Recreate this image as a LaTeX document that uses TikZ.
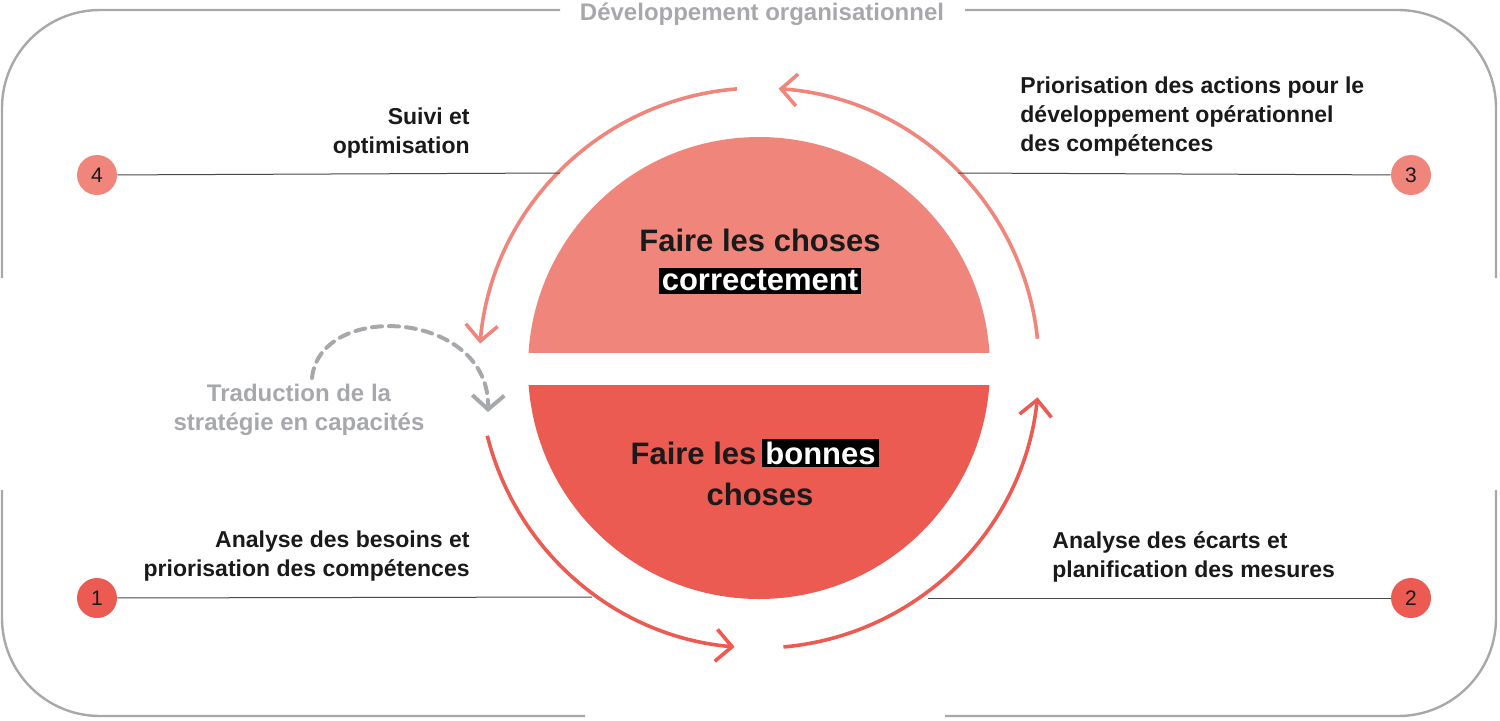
\documentclass[tikz,border=0pt]{standalone}
\usepackage{fontspec}
\setmainfont{Liberation Sans}
\usetikzlibrary{arrows.meta,calc}
\definecolor{lred}{HTML}{F0857C}
\definecolor{dred}{HTML}{EC5B51}
\definecolor{frame}{HTML}{A7A8AC}
\definecolor{txt}{HTML}{1A1A1A}
\tikzset{
 lab/.style={font=\bfseries\fontsize{11.5}{14.5}\selectfont, text=txt, inner sep=0pt},
 big/.style={font=\bfseries\fontsize{15.5}{20.5}\selectfont, text=txt, inner sep=0pt},
 hl/.style={fill=black, text=white, inner sep=1.5pt},
 num/.style={circle, minimum size=20pt, inner sep=0pt, font=\fontsize{10.5}{10}\selectfont, text=txt},
 conn/.style={draw=txt!80, line width=0.5pt},
 ring/.style={line width=1.8pt, -{Straight Barb[length=8pt,width=16pt,line width=1.8pt]}},
}
\begin{document}
\begin{tikzpicture}[x=0.5pt,y=-0.5pt]
\useasboundingbox (0,0) rectangle (1500,720);
% frame
\begin{scope}[draw=frame, line width=1.2pt]
\draw (560,10) -- (100,10) arc[start angle=90,end angle=180,radius=49pt] -- (2,278);
\draw (965,10) -- (1398,10) arc[start angle=90,end angle=0,radius=49pt] -- (1496,278);
\draw (2,490) -- (2,618) arc[start angle=180,end angle=270,radius=49pt] -- (585,716);
\draw (1496,490) -- (1496,618) arc[start angle=0,end angle=-90,radius=49pt] -- (945,716);
\end{scope}
\node[font=\bfseries\fontsize{12}{12}\selectfont, text=frame] (title) at (762,14) {Développement organisationnel};
% central disc
\coordinate (c) at (759,368);
\begin{scope}
\clip (0,0) rectangle (1500,352);
\fill[lred] (c) circle[radius=115.5pt];
\end{scope}
\begin{scope}
\clip (0,385) rectangle (1500,720);
\fill[dred] (c) circle[radius=115.5pt];
\end{scope}
\node[big] (t1) at (760,240) {Faire les choses};
\node[big, hl] (t2) at (760,281) {correctement};
\node[big, anchor=east] (t3) at (762,453) {Faire les\,};
\node[big, hl, anchor=west] (t4) at (762,453) {bonnes};
\node[big] (t5) at (760,494) {choses};
% ring arrows
\draw[ring, lred] ($(c)+(94.5:140pt)$) arc[start angle=94.5,end angle=175,radius=140pt];
\draw[ring, lred] ($(c)+(6:140pt)$) arc[start angle=6,end angle=86,radius=140pt];
\draw[ring, dred] ($(c)+(194:140pt)$) arc[start angle=194,end angle=265,radius=140pt];
\draw[ring, dred] ($(c)+(275:140pt)$) arc[start angle=275,end angle=354,radius=140pt];
% dashed arrow
\coordinate (d0) at (312,378);
\coordinate (d1) at (488,412);
\draw[frame, line width=2pt, dash pattern=on 5pt off 3.5pt, line cap=round, -{Straight Barb[length=7pt,width=16pt,line width=2pt]}] (d0) .. controls (320,300) and (490,310) .. (d1);
\node[font=\bfseries\fontsize{12}{14.5}\selectfont, text=frame, align=center] (trad) at (299,410) {Traduction de la\\stratégie en capacités};
% numbered items
\node[num, fill=lred] (n4) at (97,175) {4};
\node[num, fill=lred] (n3) at (1411,175) {3};
\node[num, fill=dred] (n1) at (97,598) {1};
\node[num, fill=dred] (n2) at (1411,598) {2};
\coordinate (e4) at (560,173);
\coordinate (e3) at (958,173);
\coordinate (e1) at (592,597);
\coordinate (e2) at (928,598);
\draw[conn] (n4) -- (e4);
\draw[conn] (n3) -- (e3);
\draw[conn] (n1) -- (e1);
\draw[conn] (n2) -- (e2);
\node[lab, align=right, anchor=north east] (l4) at (470,107) {Suivi et\\optimisation};
\node[lab, align=left, anchor=north west] (l3) at (1020,76) {Priorisation des actions pour le\\développement opérationnel\\des compétences};
\node[lab, align=right, anchor=north east] (l1) at (470,530) {Analyse des besoins et\\priorisation des compétences};
\node[lab, align=left, anchor=north west] (l2) at (1052,531) {Analyse des écarts et\\planification des mesures};
\end{tikzpicture}
\end{document}
